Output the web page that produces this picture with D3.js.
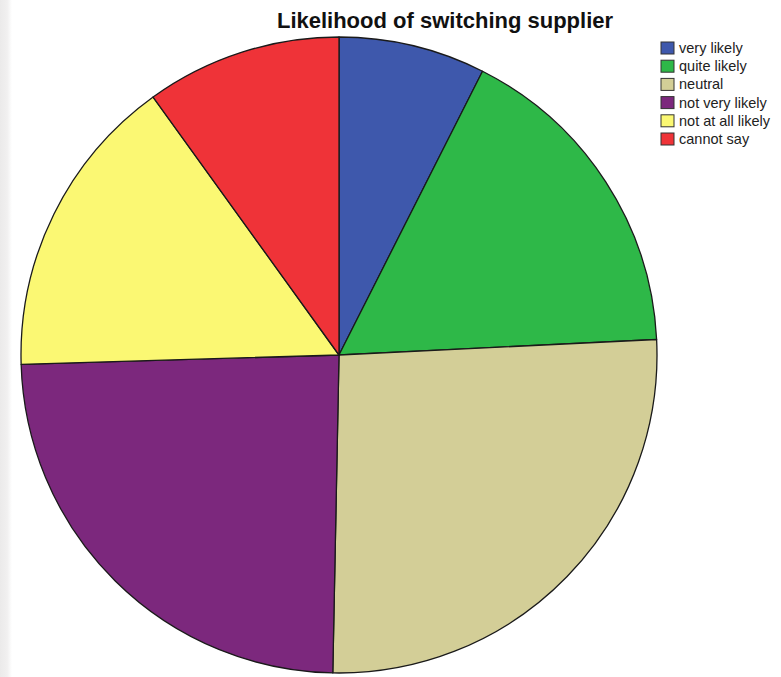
<!DOCTYPE html>
<html>
<head>
<meta charset="utf-8">
<script src="https://cdn.jsdelivr.net/npm/d3@7"></script>
<style>
  html, body { margin: 0; padding: 0; background: #ffffff; }
  svg { display: block; }
</style>
</head>
<body>
<svg id="chart" width="781" height="677"></svg>
<script>
// Survey responses: likelihood of switching supplier (counts)
const categories = ["very likely", "quite likely", "neutral", "not very likely", "not at all likely", "cannot say"];
const counts = [12, 27, 42, 39, 25, 16];
const colors = ["#3e58ac", "#2eb848", "#d3ce97", "#7c287d", "#fbf873", "#ef3338"];
const title = "Likelihood of switching supplier";

const svg = d3.select("#chart");
const cx = 339, cy = 355, radius = 318;

// faint grey margin along the left edge
const defs = svg.append("defs");
const grad = defs.append("linearGradient").attr("id", "edgeShade").attr("x1", 0).attr("x2", 1);
grad.append("stop").attr("offset", "0%").attr("stop-color", "#ebeaea");
grad.append("stop").attr("offset", "60%").attr("stop-color", "#f1f0f0");
grad.append("stop").attr("offset", "100%").attr("stop-color", "#ffffff");
svg.append("rect").attr("x", 0).attr("y", 0).attr("width", 12).attr("height", 677).attr("fill", "url(#edgeShade)");

const data = categories.map((c, i) => ({ label: c, value: counts[i], color: colors[i] }));

const pie = d3.pie().value(d => d.value).sort(null);
const arc = d3.arc().innerRadius(0).outerRadius(radius);

const g = svg.append("g").attr("transform", `translate(${cx},${cy})`);
g.selectAll("path")
  .data(pie(data))
  .join("path")
  .attr("d", arc)
  .attr("fill", d => d.data.color)
  .attr("stroke", "#1a1a1a")
  .attr("stroke-width", 1.3)
  .attr("stroke-linejoin", "round");

// Title
svg.append("text")
  .attr("x", 445)
  .attr("y", 28)
  .attr("text-anchor", "middle")
  .attr("font-family", "Liberation Sans, Arial, sans-serif")
  .attr("font-weight", "bold")
  .attr("font-size", 22)
  .attr("fill", "#111")
  .text(title);

// Legend
const legend = svg.append("g").attr("transform", "translate(661,42)");
const rowH = 18.2;
const items = legend.selectAll("g")
  .data(data)
  .join("g")
  .attr("transform", (d, i) => `translate(0,${i * rowH})`);
items.append("rect")
  .attr("width", 13)
  .attr("height", 12)
  .attr("fill", d => d.color)
  .attr("stroke", "#333")
  .attr("stroke-width", 1);
items.append("text")
  .attr("x", 18)
  .attr("y", 11)
  .attr("font-family", "Liberation Sans, Arial, sans-serif")
  .attr("font-size", 14.5)
  .attr("fill", "#222")
  .text(d => d.label);
</script>
</body>
</html>
